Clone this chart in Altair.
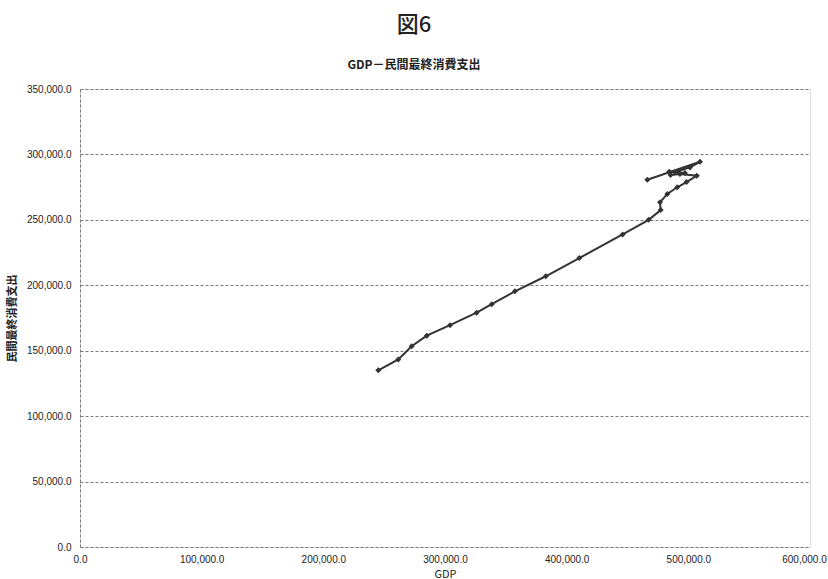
import altair as alt
import pandas as pd

# GDP and private final consumption expenditure (billion yen), one point per year
gdp = [245200, 261600, 272600, 285000, 304100, 326000, 338400, 357500, 382800,
       410400, 446000, 467400, 477300, 476700, 482700, 490900, 498500, 506900,
       493100, 485400, 497200, 484300, 489000, 501300, 509600, 466300]
consumption = [135000, 143300, 153400, 161500, 169500, 179100, 185600, 195400,
               206900, 220800, 238900, 250000, 257500, 263400, 269800, 274900,
               278900, 283700, 285000, 284200, 285800, 286800, 286300, 290100,
               294400, 280600]

x_ticks = [0, 100000, 200000, 300000, 400000, 500000, 600000]
y_ticks = [0, 50000, 100000, 150000, 200000, 250000, 300000, 350000]

df = pd.DataFrame({"order": range(len(gdp)), "gdp": gdp, "cons": consumption})

num_font = "Liberation Sans"
jp_font = "Noto Sans CJK JP"

x_enc = alt.X(
    "gdp:Q",
    scale=alt.Scale(domain=[0, 600000], nice=False, zero=True),
    axis=alt.Axis(
        values=x_ticks, format=",.1f", title="GDP", grid=False, domain=False,
        ticks=False, labelFont=num_font, labelFontSize=10, labelColor="#222",
        labelPadding=7, labelFlush=False,
        labelOffset={"condition": {"test": "datum.value == 600000", "value": -6}, "value": 0},
        titleFont=jp_font, titleFontSize=11, titleFontWeight="normal",
        titleColor="#222", titlePadding=4,
    ),
)
y_enc = alt.Y(
    "cons:Q",
    scale=alt.Scale(domain=[0, 350000], nice=False),
    axis=alt.Axis(
        values=y_ticks, format=",.1f", title="民間最終消費支出", grid=True,
        gridColor="#7a7a7a", gridDash=[3, 2], gridWidth=1,
        domain=True, domainColor="#7a7a7a", domainDash=[3, 2], ticks=False,
        labelFont=num_font, labelFontSize=10, labelColor="#222", labelPadding=9,
        titleFont=jp_font, titleFontSize=11, titleFontWeight="bold", titleColor="#222",
        titlePadding=9,
    ),
)

line = alt.Chart(df).mark_line(color="#333333", strokeWidth=2).encode(
    x=x_enc, y=y_enc, order="order:Q"
)
pts = alt.Chart(df).mark_point(
    shape="diamond", filled=True, color="#333333", size=36, opacity=1
).encode(x="gdp:Q", y="cons:Q")

chart = (
    alt.layer(line, pts)
    .properties(
        width=730,
        height=458,
        title=alt.Title(
            text="図6",
            subtitle="GDP－民間最終消費支出",
            anchor="middle",
            frame="group",
            dx=-31,
            font=jp_font,
            fontSize=22,
            fontWeight=500,
            color="#222",
            subtitleFont=jp_font,
            subtitleFontSize=12,
            subtitleFontWeight="bold",
            subtitleColor="#222",
            subtitlePadding=23,
            offset=12,
        ),
        padding={"left": 80, "top": 89, "right": 18, "bottom": 32},
        autosize=alt.AutoSizeParams(type="none"),
    )
    .configure_view(stroke=None)
    .configure(background="white")
)

chart.save("out.html", embed_options={"renderer": "svg", "actions": False})
